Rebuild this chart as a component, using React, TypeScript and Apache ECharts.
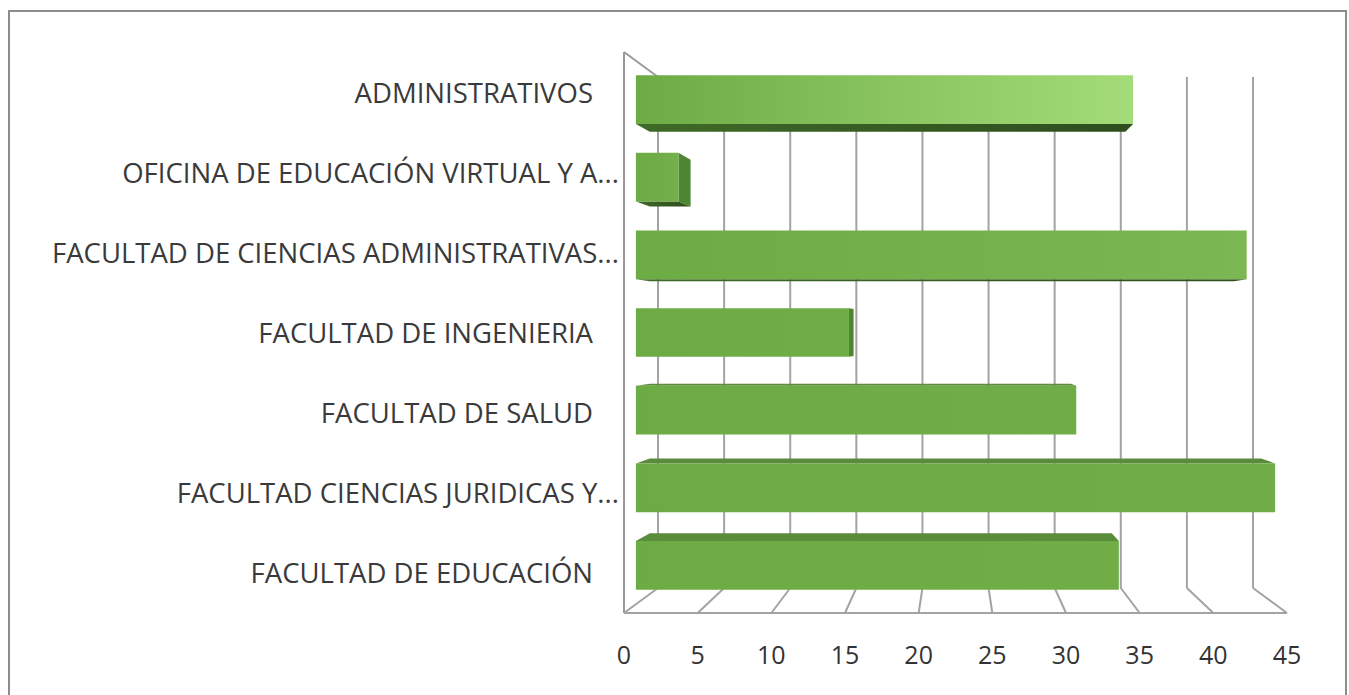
import React, { useEffect, useRef } from "react";
import * as echarts from "echarts";

const categories = [
  "ADMINISTRATIVOS",
  "OFICINA DE EDUCACIÓN VIRTUAL Y A...",
  "FACULTAD DE CIENCIAS ADMINISTRATIVAS...",
  "FACULTAD DE INGENIERIA",
  "FACULTAD DE SALUD",
  "FACULTAD CIENCIAS JURIDICAS Y...",
  "FACULTAD DE EDUCACIÓN",
];
const values = [35, 3, 43, 15, 31, 45, 34];
const xTicks = [0, 5, 10, 15, 20, 25, 30, 35, 40, 45];

const FONT = "'Open Sans', 'Noto Sans', sans-serif";
const GRID_COLOR = "#a3a3a3";
const DEPTH_X = 34;
const DEPTH_Y = 25;
const D0 = 0.35;
const D1 = 0.76;
const BAR_FRAC = 0.627;

function hexToRgb(h: string) {
  const n = parseInt(h.slice(1), 16);
  return [(n >> 16) & 255, (n >> 8) & 255, n & 255];
}
function mix(a: string, b: string, t: number) {
  const A = hexToRgb(a), B = hexToRgb(b);
  const c = A.map((v, i) => Math.round(v + (B[i] - v) * t));
  return `rgb(${c[0]},${c[1]},${c[2]})`;
}

function geometry(api: any) {
  const max = xTicks[xTicks.length - 1];
  const band = api.size([0, 1])[1];
  const p0 = api.coord([0, 0]);
  const p1 = api.coord([max, categories.length - 1]);
  const gx0 = p0[0], gx1 = p1[0];
  const gy0 = p0[1] - band / 2, gy1 = p1[1] + band / 2;
  const bx0 = gx0 + DEPTH_X, bx1 = gx1 - DEPTH_X;
  const by0 = gy0 + DEPTH_Y, by1 = gy1 - DEPTH_Y;
  const map = (x: number, y: number, d: number) => {
    const xb = bx0 + ((x - gx0) * (bx1 - bx0)) / (gx1 - gx0);
    const yb = by0 + ((y - gy0) * (by1 - by0)) / (gy1 - gy0);
    return [x + d * (xb - x), y + d * (yb - y)];
  };
  return { band, gx0, gx1, gy0, gy1, map };
}

function line(a: number[], b: number[], color = GRID_COLOR, w = 2) {
  return {
    type: "line",
    shape: { x1: a[0], y1: a[1], x2: b[0], y2: b[1] },
    style: { stroke: color, lineWidth: w },
  };
}

function renderFrame(params: any, api: any) {
  const g = geometry(api);
  const t = api.value(0);
  const xF = api.coord([t, 0])[0];
  const top = g.map(xF, g.gy0, 1);
  const bot = g.map(xF, g.gy1, 1);
  const children: any[] = [line(top, bot), line(bot, [xF, g.gy1])];
  if (params.dataIndex === 0) {
    children.push(line([g.gx0, g.gy0], [g.gx0, g.gy1], "#9a9a9a"));
    children.push(line([g.gx0, g.gy0], g.map(g.gx0, g.gy0, 1), "#9a9a9a"));
    children.push(line([g.gx0, g.gy1], [g.gx1, g.gy1]));
  }
  return { type: "group", children };
}

function renderBar(params: any, api: any) {
  const g = geometry(api);
  const v = api.value(0);
  const i = api.value(1);
  const c = api.coord([v, i]);
  const x0 = api.coord([0, i])[0];
  const x1 = c[0];
  const h = (g.band * BAR_FRAC) / 2;
  const yt = c[1] - h;
  const yb = c[1] + h;
  const P = (x: number, y: number, d: number) => g.map(x, y, d);
  const children: any[] = [];

  if (P(x0, yt, D1)[1] < P(x0, yt, D0)[1] - 0.3) {
    children.push({
      type: "polygon",
      shape: { points: [P(x0, yt, D0), P(x1, yt, D0), P(x1, yt, D1), P(x0, yt, D1)] },
      style: { fill: "#5b8c3c" },
    });
  }
  if (P(x0, yb, D1)[1] > P(x0, yb, D0)[1] + 0.3) {
    children.push({
      type: "polygon",
      shape: { points: [P(x0, yb, D0), P(x1, yb, D0), P(x1, yb, D1), P(x0, yb, D1)] },
      style: {
        fill: {
          type: "linear", x: 0, y: 0, x2: 1, y2: 0,
          colorStops: [
            { offset: 0, color: "#3f6a28" },
            { offset: 1, color: "#2f4d1e" },
          ],
        },
      },
    });
  }
  if (P(x1, yt, D1)[0] > P(x1, yt, D0)[0] + 0.3) {
    children.push({
      type: "polygon",
      shape: { points: [P(x1, yt, D0), P(x1, yt, D1), P(x1, yb, D1), P(x1, yb, D0)] },
      style: { fill: "#4e8731" },
    });
  }
  const f = (c[1] - g.gy0) / (g.gy1 - g.gy0);
  const k = Math.max(0, Math.min(1, 1 - (f - 0.07) / 0.35));
  const kk = Math.min(1, (k * v) / 35);
  const base = "#70ad47";
  const light = "#a3dc79";
  const a = P(x0, yt, D0), b = P(x1, yt, D0), cc = P(x1, yb, D0), d = P(x0, yb, D0);
  children.push({
    type: "polygon",
    shape: { points: [a, b, cc, d] },
    style: {
      fill: {
        type: "linear", x: 0, y: 0, x2: 1, y2: 0,
        colorStops: [
          { offset: 0, color: mix(base, "#6aa843", 0.5) },
          { offset: 1, color: mix(base, light, kk) },
        ],
      },
    },
  });
  return { type: "group", children };
}

export default function App() {
  const ref = useRef<HTMLDivElement>(null);
  useEffect(() => {
    const chart = echarts.init(ref.current!, null, { renderer: "svg" });
    const option: any = {
      animation: false,
      backgroundColor: "#ffffff",
      grid: { left: 624, top: 52, width: 663, height: 561, containLabel: false },
      xAxis: {
        type: "value",
        min: 0,
        max: xTicks[xTicks.length - 1],
        interval: 5,
        axisLine: { show: false },
        axisTick: { show: false },
        splitLine: { show: false },
        axisLabel: { fontSize: 25, color: "#333333", margin: 28, fontFamily: FONT },
      },
      yAxis: {
        type: "category",
        inverse: true,
        data: categories,
        axisLine: { show: false },
        axisTick: { show: false },
        splitLine: { show: false },
        axisLabel: {
          margin: 5,
          fontSize: 27.5,
          color: "#3a3a3a",
          fontFamily: FONT,
          formatter: (val: string) => (val.endsWith("...") ? val : `{p|${val}}`),
          rich: { p: { fontSize: 27.5, color: "#3a3a3a", fontFamily: FONT, padding: [0, 26, 0, 0] } },
        },
      },
      graphic: [
        {
          type: "rect",
          silent: true,
          shape: { x: 9, y: 11, width: 1337, height: 720 },
          style: { fill: "none", stroke: "#8c8c8c", lineWidth: 2 },
        },
      ],
      series: [
        {
          type: "custom",
          name: "frame",
          coordinateSystem: "cartesian2d",
          encode: { x: 0, y: 1 },
          data: xTicks.map((t) => [t, 0]),
          renderItem: renderFrame,
          silent: true,
          z: 1,
        },
        {
          type: "custom",
          name: "values",
          coordinateSystem: "cartesian2d",
          encode: { x: 0, y: 1 },
          data: values.map((v, i) => [v, i]),
          renderItem: renderBar,
          z: 2,
        },
      ],
    };
    chart.setOption(option);
    return () => chart.dispose();
  }, []);
  return (
    <div
      ref={ref}
      style={{ position: "fixed", left: 0, top: 0, width: 1349, height: 695, background: "#fff" }}
    />
  );
}
